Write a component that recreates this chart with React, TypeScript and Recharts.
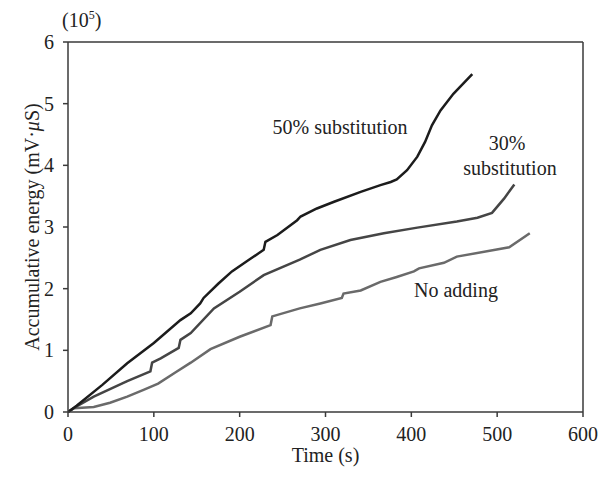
import React from "react";
import {
  LineChart,
  Line,
  XAxis,
  YAxis,
  ReferenceLine,
} from "recharts";

// time (s) and accumulative energy (x10^5 mV·μS)
const sub50Time = [0, 10, 40, 69, 100, 131, 143, 154, 158, 175, 191, 210, 228, 230, 244, 267, 271, 290, 310, 341, 364, 376, 383, 395, 407, 416, 424, 434, 449, 471];
const sub50Energy = [0, 0.1, 0.44, 0.79, 1.12, 1.49, 1.6, 1.76, 1.85, 2.08, 2.28, 2.46, 2.63, 2.76, 2.87, 3.11, 3.17, 3.3, 3.41, 3.57, 3.68, 3.73, 3.77, 3.92, 4.14, 4.38, 4.65, 4.89, 5.16, 5.48];

const sub30Time = [0, 10, 30, 69, 96, 98, 108, 129, 131, 143, 170, 200, 228, 270, 294, 329, 368, 407, 453, 477, 494, 508, 520];
const sub30Energy = [0, 0.09, 0.25, 0.5, 0.66, 0.8, 0.87, 1.04, 1.17, 1.28, 1.68, 1.95, 2.22, 2.47, 2.63, 2.79, 2.9, 2.99, 3.09, 3.15, 3.23, 3.46, 3.69];

const noAddTime = [0, 7, 30, 49, 69, 88, 105, 125, 143, 166, 200, 236, 238, 270, 294, 319, 321, 341, 364, 383, 403, 409, 438, 453, 514, 538];
const noAddEnergy = [0, 0.06, 0.08, 0.15, 0.25, 0.36, 0.46, 0.64, 0.8, 1.02, 1.22, 1.41, 1.55, 1.68, 1.76, 1.85, 1.92, 1.97, 2.11, 2.19, 2.28, 2.33, 2.42, 2.52, 2.67, 2.9];

const xTicks = [0, 100, 200, 300, 400, 500, 600];
const yTicks = [0, 1, 2, 3, 4, 5, 6];

const toPoints = (t: number[], v: number[]) => t.map((x, i) => ({ x, y: v[i] }));

const sub50 = toPoints(sub50Time, sub50Energy);
const sub30 = toPoints(sub30Time, sub30Energy);
const noAdd = toPoints(noAddTime, noAddEnergy);

const FONT = "'Liberation Serif', 'DejaVu Serif', serif";
const AXIS = "#3a3a3a";
const tickStyle = { fontFamily: FONT, fontSize: 20, fill: "#222" };

export default function App() {
  return (
    <div style={{ position: "absolute", left: 0, top: 0 }}>
      <LineChart
        width={613}
        height={477}
        margin={{ top: 42, right: 30, bottom: 0, left: 0 }}
      >
        <XAxis
          type="number"
          dataKey="x"
          domain={[0, 600]}
          ticks={xTicks}
          allowDataOverflow
          stroke={AXIS}
          strokeWidth={1.5}
          tickSize={5}
          tickMargin={10}
          tick={tickStyle}
          height={65}
          label={({ viewBox }: any) => (
            <text
              x={viewBox.x + viewBox.width / 2}
              y={462}
              textAnchor="middle"
              fontFamily={FONT}
              fontSize={20}
              fill="#222"
            >
              Time (s)
            </text>
          )}
        />
        <YAxis
          type="number"
          dataKey="y"
          domain={[0, 6]}
          ticks={yTicks}
          stroke={AXIS}
          strokeWidth={1.5}
          tickSize={5}
          tickMargin={9}
          tick={tickStyle}
          width={68}
          label={({ viewBox }: any) => (
            <text
              x={39}
              y={viewBox.y + viewBox.height / 2}
              transform={`rotate(-90, 39, ${viewBox.y + viewBox.height / 2})`}
              textAnchor="middle"
              fontFamily={FONT}
              fontSize={20}
              fill="#222"
            >
              Accumulative energy (mV·<tspan fontStyle="italic">μ</tspan>S)
            </text>
          )}
        />
        <ReferenceLine y={6} stroke={AXIS} strokeWidth={1.5} />
        <ReferenceLine x={600} stroke={AXIS} strokeWidth={1.5} />
        <Line
          data={noAdd}
          dataKey="y"
          type="linear"
          stroke="#6a6a6a"
          strokeWidth={2.5}
          dot={false}
          isAnimationActive={false}
        />
        <Line
          data={sub30}
          dataKey="y"
          type="linear"
          stroke="#454545"
          strokeWidth={2.5}
          dot={false}
          isAnimationActive={false}
        />
        <Line
          data={sub50}
          dataKey="y"
          type="linear"
          stroke="#1c1c1c"
          strokeWidth={2.5}
          dot={false}
          isAnimationActive={false}
        />
        <text x={62} y={27} fontFamily={FONT} fontSize={20} fill="#222">
          (10<tspan dy={-8} fontSize={12}>5</tspan>
          <tspan dy={8}>)</tspan>
        </text>
        <text x={340} y={134} textAnchor="middle" fontFamily={FONT} fontSize={20} fill="#222">
          50% substitution
        </text>
        <text x={507} y={150} textAnchor="middle" fontFamily={FONT} fontSize={20} fill="#222">
          30%
        </text>
        <text x={510} y={175} textAnchor="middle" fontFamily={FONT} fontSize={20} fill="#222">
          substitution
        </text>
        <text x={456} y={297} textAnchor="middle" fontFamily={FONT} fontSize={20} fill="#222">
          No adding
        </text>
      </LineChart>
    </div>
  );
}
